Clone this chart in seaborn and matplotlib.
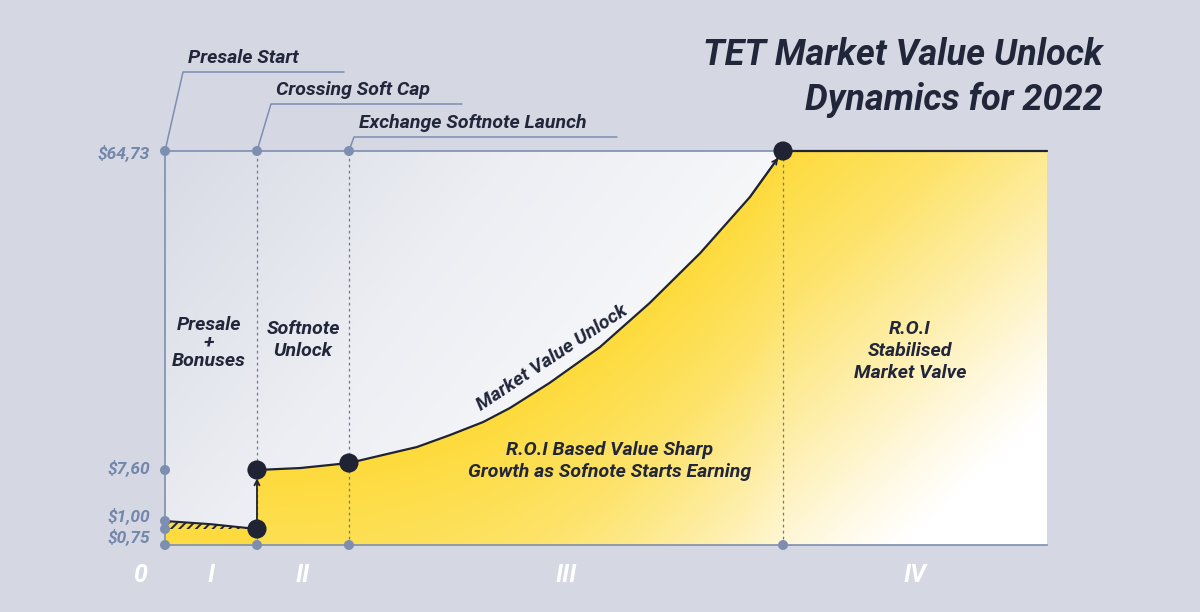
import numpy as np
import matplotlib
matplotlib.use("Agg")
import matplotlib.pyplot as plt
import seaborn as sns
from matplotlib.colors import LinearSegmentedColormap
from matplotlib.lines import Line2D
from matplotlib.transforms import ScaledTranslation

# ---------------- data ----------------
milestone_names = ["Presale Start", "Crossing Soft Cap", "Exchange Softnote Launch"]
milestone_x = [0.0, 1.0, 2.0]
peak_x = 6.72
end_x = 9.59
stage_bounds = [0.0, 1.0, 2.0, 6.72, 9.59]
stage_labels = ["0", "I", "II", "III", "IV"]

price_levels = [0.75, 1.00, 7.60, 64.73]
price_labels = ["$0,75", "$1,00", "$7,60", "$64,73"]

presale_x = [0.0, 0.5, 1.0]
presale_price = [1.00, 0.90, 0.75]

unlock_x = [1.0, 1.47, 2.0, 2.37, 2.74, 3.10, 3.46, 3.75, 4.18, 4.73, 5.27, 5.82, 6.36, 6.72]
unlock_price = [7.60, 7.95, 8.85, 10.29, 11.72, 13.87, 16.20, 18.70, 23.18, 29.63,
                37.51, 46.46, 56.49, 64.73]

stable_x = [6.72, 9.59]
stable_price = [64.73, 64.73]

# schematic (non-linear) price axis
scale_vals = [0.0, 0.75, 1.00, 7.60, 64.73]
scale_pos = [0.0, 16.0, 24.0, 75.0, 394.0]

# ---------------- style ----------------
BG = "#d5d8e2"
DARK = "#1f2334"
AXC = "#7d8eb1"
TXT = "#22263a"
FONT = ["Roboto", "DejaVu Sans"]

sns.set_theme(style="white")
plt.rcParams["font.family"] = FONT
plt.rcParams["hatch.linewidth"] = 1.4

W, H = 1200, 612
fig = plt.figure(figsize=(W / 100, H / 100), dpi=100, facecolor=BG)
L, R, T, B = 165, 1047, 151, 545
ax = fig.add_axes([L / W, 1 - B / H, (R - L) / W, (B - T) / H])
ax.set_facecolor("none")


def fwd(v):
    return np.interp(v, scale_vals, scale_pos)


def inv(p):
    return np.interp(p, scale_pos, scale_vals)


ax.set_yscale("function", functions=(fwd, inv))

fill_x = np.concatenate([presale_x, unlock_x, [end_x]])
fill_y = np.concatenate([presale_price, unlock_price, [64.73]])

# ---------------- background gradients ----------------
nx, ny = 600, 300
gx, gy = np.meshgrid(np.linspace(0, 1, nx), np.linspace(0, 1, ny))
px = L + gx * (R - L)
py = B - gy * (B - T)

t_gray = np.clip(((px - L) / 520.0) * 0.75 + ((py - T) / 394.0) * 0.45, 0, 1)
gray_cmap = LinearSegmentedColormap.from_list("g", ["#d8dbe5", "#eceef3", "#f9f9fb"])
ax.imshow(t_gray, cmap=gray_cmap, origin="lower", extent=(0, 1, 0, 1),
          transform=ax.transAxes, aspect="auto", zorder=0, vmin=0, vmax=1)

# yellow shading: strongest along the value curve, fading downward / to the right
top_pos = fwd(np.interp(gx[0] * end_x, fill_x, fill_y))          # px above baseline
depth = top_pos[None, :] - gy * (B - T)
peak_px = L + peak_x / end_x * (R - L)
t_yel = np.clip(depth / 500.0 + np.maximum(0, px - peak_px) / 560.0, 0, 1)
yel_cmap = LinearSegmentedColormap.from_list(
    "y", [(0, "#fddb3c"), (0.3, "#fde36a"), (0.6, "#feefac"), (0.85, "#fff9e4"),
          (1.0, "#ffffff")])
yim = ax.imshow(t_yel, cmap=yel_cmap, origin="lower", extent=(0, 1, 0, 1),
                transform=ax.transAxes, aspect="auto", zorder=1, vmin=0, vmax=1)

poly = ax.fill_between(fill_x, 0, fill_y, facecolor="none", edgecolor="none", zorder=1)
yim.set_clip_path(poly.get_paths()[0], ax.transData)

# hatched presale bonus band
ax.fill_between(presale_x, 0.75, presale_price, facecolor="#f8dc4a",
                edgecolor=DARK, hatch="////", linewidth=0, zorder=2)

# dashed milestone verticals
for xv in [milestone_x[1], milestone_x[2], peak_x]:
    ax.plot([xv, xv], [0, 64.73], color="#6f7891", lw=0.9,
            linestyle=(0, (2.2, 2.6)), zorder=2)

# ---------------- lines ----------------
sns.lineplot(x=presale_x, y=presale_price, ax=ax, color=DARK, lw=1.5, sort=False,
             zorder=4)
sns.lineplot(x=unlock_x, y=unlock_price, ax=ax, color=DARK, lw=1.6, sort=False,
             zorder=4)
sns.lineplot(x=stable_x, y=stable_price, ax=ax, color=DARK, lw=1.6, sort=False,
             zorder=4)
for ln in ax.lines[-3:]:
    ln.set_clip_on(False)
    ln.set_solid_joinstyle("round")

ax.annotate("", xy=(milestone_x[1], unlock_price[0]),
            xytext=(milestone_x[1], presale_price[-1]),
            arrowprops=dict(arrowstyle="->", color=DARK, lw=1.3,
                            shrinkA=6, shrinkB=6, mutation_scale=9), zorder=4)
ax.annotate("", xy=(unlock_x[-1], unlock_price[-1]),
            xytext=(unlock_x[-2], unlock_price[-2]),
            arrowprops=dict(arrowstyle="->", color=DARK, lw=1.2,
                            shrinkA=0, shrinkB=6, mutation_scale=9), zorder=4)

# ---------------- axis dots ----------------
dot_x = [0, 0, 0, 0, 0, 1.0, 2.0, 1.0, 2.0, peak_x]
dot_y = [0, 0.75, 1.00, 7.60, 64.73, 64.73, 64.73, 0, 0, 0]
sns.scatterplot(x=dot_x, y=dot_y, ax=ax, s=52, color=AXC, edgecolor="none",
                clip_on=False, zorder=5)

big_x = [1.0, 1.0, 2.0, peak_x]
big_y = [presale_price[-1], unlock_price[0], unlock_price[2], unlock_price[-1]]
sns.scatterplot(x=big_x, y=big_y, ax=ax, s=190, color=DARK, edgecolor="none",
                clip_on=False, zorder=6)

ax.set_xlim(0, end_x)
ax.set_ylim(0, 64.73)

# spines
for side in ["left", "bottom", "top"]:
    ax.spines[side].set_visible(True)
    ax.spines[side].set_color(AXC)
    ax.spines[side].set_linewidth(1.2)
ax.spines["right"].set_visible(False)

# y ticks
ax.set_yticks(price_levels)
ax.set_yticklabels(price_labels)
ax.tick_params(axis="y", length=0, pad=11)
y_shift_px = {"$0,75": -6, "$1,00": 7, "$7,60": 4, "$64,73": 0}
for lab in ax.get_yticklabels():
    lab.set_fontsize(12.5)
    lab.set_fontweight("bold")
    lab.set_fontstyle("italic")
    lab.set_color("#7386ab")
    dy = y_shift_px.get(lab.get_text(), 0) / 100.0
    lab.set_transform(lab.get_transform() + ScaledTranslation(0, dy, fig.dpi_scale_trans))

# x ticks: stage labels
stage_centers = [stage_bounds[0]] + [
    (stage_bounds[i] + stage_bounds[i + 1]) / 2 for i in range(len(stage_bounds) - 1)]
ax.set_xticks(stage_centers)
ax.set_xticklabels(stage_labels)
ax.tick_params(axis="x", length=0, pad=13)
for i, lab in enumerate(ax.get_xticklabels()):
    lab.set_fontsize(18)
    lab.set_fontweight("bold")
    lab.set_fontstyle("italic")
    lab.set_color("white")
    if i == 0:
        lab.set_transform(lab.get_transform() + ScaledTranslation(-0.25, 0, fig.dpi_scale_trans))

ax.grid(False)

# ---------------- milestone leaders ----------------
leader_geom = [(18, 79, 161), (14, 47, 191), (5, 14, 263)]
fig.canvas.draw()
for name, xv, (dx, dy, hl) in zip(milestone_names, milestone_x, leader_geom):
    x0, y0 = ax.transData.transform((xv, 64.73))
    pts = np.array([[x0, y0], [x0 + dx, y0 + dy], [x0 + dx + hl, y0 + dy]])
    fpts = fig.transFigure.inverted().transform(pts)
    fig.add_artist(Line2D(fpts[:, 0], fpts[:, 1], color=AXC, lw=1.1))
    fig.text((x0 + dx + 5) / W, (y0 + dy + 9) / H, name, ha="left", va="baseline",
             fontsize=14, fontweight="bold", fontstyle="italic", color=TXT)

# ---------------- titles & annotations ----------------
def ftext(x, y, s, **kw):
    fig.text(x / W, 1 - y / H, s, **kw)


tkw = dict(fontweight="bold", fontstyle="italic", color=TXT)
ftext(1103, 65, "TET Market Value Unlock", ha="right", va="baseline", fontsize=26, **tkw)
ftext(1103, 110, "Dynamics for 2022", ha="right", va="baseline", fontsize=26, **tkw)

ftext(209, 343, "Presale\n+\nBonuses", ha="center", va="center", fontsize=14,
      linespacing=1.0, **tkw)
ftext(303, 340, "Softnote\nUnlock", ha="center", va="center", fontsize=14,
      linespacing=1.3, **tkw)
ftext(552, 358, "Market Value Unlock", ha="center", va="center", fontsize=14,
      rotation=33.5, rotation_mode="anchor", **tkw)
ftext(610, 461, "R.O.I Based Value Sharp\nGrowth as Sofnote Starts Earning",
      ha="center", va="center", fontsize=14, linespacing=1.3, **tkw)
ftext(910, 351, "R.O.I\nStabilised\nMarket Valve", ha="center", va="center",
      fontsize=14, linespacing=1.25, **tkw)

fig.savefig("out.png", dpi=100, facecolor=BG)
